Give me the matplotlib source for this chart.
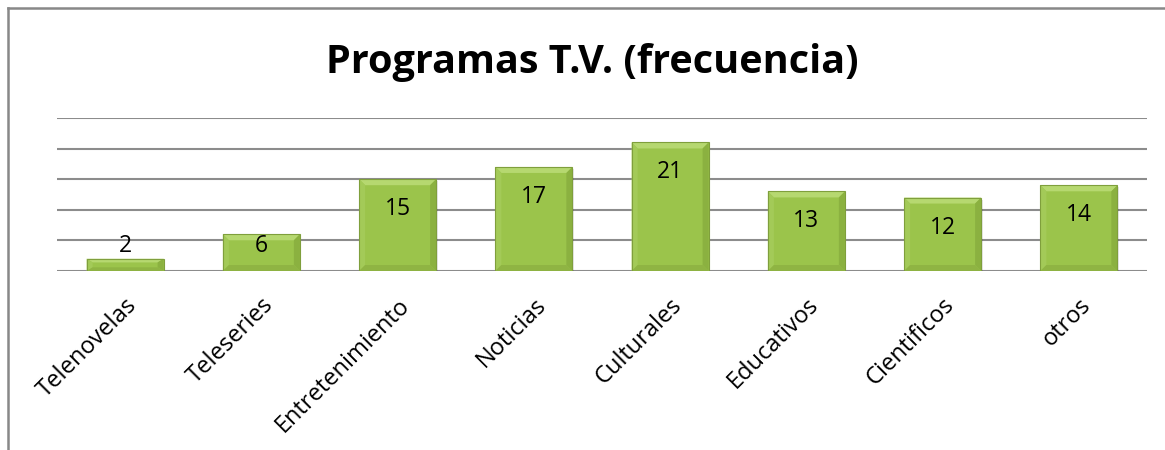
import matplotlib
matplotlib.use('Agg')
import matplotlib.pyplot as plt
from matplotlib.patches import Polygon, Rectangle
from matplotlib.lines import Line2D
import numpy as np

# datos
categorias = ['Telenovelas', 'Teleseries', 'Entretenimiento', 'Noticias',
              'Culturales', 'Educativos', 'Cientificos', 'otros']
frecuencia = [2, 6, 15, 17, 21, 13, 12, 14]
titulo = 'Programas T.V. (frecuencia)'

plt.rcParams['font.family'] = ['Open Sans', 'DejaVu Sans']

W, H = 1165, 450
fig = plt.figure(figsize=(W / 100, H / 100), dpi=100)

# area del grafico (pixeles medidos sobre la referencia)
left, right, top, bottom = 57, 1147, 118, 271
ax = fig.add_axes([left / W, 1 - bottom / H, (right - left) / W, (bottom - top) / H])
ax.set_xlim(-0.5, len(categorias) - 0.5)
ax.set_ylim(0, 25)

for s in ax.spines.values():
    s.set_visible(False)
ax.set_yticks(range(0, 26, 5))
ax.set_yticklabels([])
ax.tick_params(axis='y', length=0)
ax.tick_params(axis='x', length=0, pad=16)
ax.grid(axis='y', color='#8c8c8c', linewidth=1.5)
ax.set_axisbelow(True)

x = np.arange(len(categorias))
ancho = 0.565
ax.bar(x, frecuencia, width=ancho, color='#9bc44b', edgecolor='none', zorder=3)

# bisel de cada barra
px_x = (len(categorias)) / (right - left)
px_y = 25 / (bottom - top)
for xi, h in zip(x, frecuencia):
    x0, x1 = xi - ancho / 2, xi + ancho / 2
    dx = 6 * px_x
    dy = min(6 * px_y, h * 0.3)
    # sombra
    ax.add_patch(Rectangle((x0 + 1.5 * px_x, -2 * px_y), ancho, h, color='#000000',
                           alpha=0.10, zorder=2, linewidth=0))
    caras = [
        ([(x0, h), (x1, h), (x1 - dx, h - dy), (x0 + dx, h - dy)], '#b6d870'),
        ([(x0, 0), (x0, h), (x0 + dx, h - dy), (x0 + dx, dy)], '#a3ca58'),
        ([(x1, 0), (x1, h), (x1 - dx, h - dy), (x1 - dx, dy)], '#8bb140'),
        ([(x0, 0), (x1, 0), (x1 - dx, dy), (x0 + dx, dy)], '#8fb443'),
    ]
    for pts, c in caras:
        ax.add_patch(Polygon(pts, closed=True, color=c, linewidth=0, zorder=4))
    ax.add_patch(Rectangle((x0, 0), ancho, h, fill=False, edgecolor='#7f9f3c',
                           linewidth=0.8, zorder=5))
    ax.text(xi, max(h - 4.9, 4.1), str(h), ha='center', va='center',
            fontsize=16.5, color='black', zorder=6)

ax.set_xticks(x)
ax.set_xticklabels(categorias, rotation=45, ha='right', va='top',
                   rotation_mode='anchor', fontsize=17)

fig.text(0.508, 0.862, titulo, ha='center', va='center', fontsize=28.5,
         fontweight='bold')

# marco del grafico (solo borde izquierdo y superior visibles)
fig.add_artist(Line2D([8 / W, 8 / W], [0, 1 - 8 / H], color='#888888', linewidth=1.8,
                      transform=fig.transFigure))
fig.add_artist(Line2D([8 / W, 1], [1 - 8 / H, 1 - 8 / H], color='#888888', linewidth=1.8,
                      transform=fig.transFigure))

fig.savefig('out.png', dpi=100)
